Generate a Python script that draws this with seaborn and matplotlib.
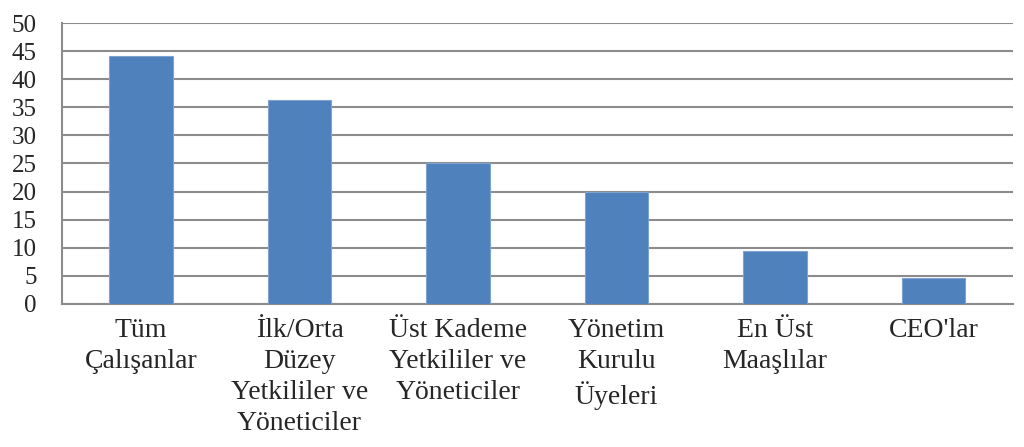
import matplotlib
matplotlib.use("Agg")
import matplotlib.pyplot as plt
import seaborn as sns
import pandas as pd

categories = [
    "Tüm\nÇalışanlar",
    "İlk/Orta\nDüzey\nYetkililer ve\nYöneticiler",
    "Üst Kademe\nYetkililer ve\nYöneticiler",
    "Yönetim\nKurulu\nÜyeleri",
    "En Üst\nMaaşlılar",
    "CEO'lar",
]
values = [44.2, 36.3, 25.1, 20.0, 9.5, 4.6]
y_ticks = list(range(0, 55, 5))

df = pd.DataFrame({"Grup": categories, "Deger": values})

sns.set_style("white")
plt.rcParams["font.family"] = ["Liberation Serif", "DejaVu Serif"]

fig = plt.figure(figsize=(10.24, 4.47), dpi=100)
ax = fig.add_axes([0.0605, 0.32, 0.9285, 0.6285])

sns.barplot(
    data=df,
    x="Grup",
    y="Deger",
    color="#4F81BD",
    saturation=1,
    width=0.4,
    edgecolor="#7FA3D1",
    linewidth=0.8,
    ax=ax,
    zorder=3,
)

grid_color = "#8C8C8C"
ax.set_ylim(0, 50)
ax.set_xlim(-0.5, len(categories) - 0.5)
ax.set_yticks(y_ticks)
ax.yaxis.grid(True, color=grid_color, linewidth=1.5, zorder=0)
ax.set_axisbelow(True)

# category boundaries as major ticks, labels on minor ticks at the centres
ax.set_xticks([i - 0.5 for i in range(len(categories) + 1)])
ax.set_xticklabels([])
ax.set_xticks(range(len(categories)), minor=True)
ax.set_xticklabels(categories, minor=True, fontsize=20, linespacing=1.32)
ax.tick_params(axis="x", which="major", length=8, width=1.5, color=grid_color)
ax.tick_params(axis="x", which="minor", length=0, pad=10)
ax.tick_params(axis="y", length=6, width=1.5, color=grid_color, labelsize=18, pad=12)

for side in ["top", "right"]:
    ax.spines[side].set_visible(False)
for side in ["left", "bottom"]:
    ax.spines[side].set_color(grid_color)
    ax.spines[side].set_linewidth(1.5)

ax.set_xlabel("")
ax.set_ylabel("")

fig.savefig("out.png", dpi=100)
